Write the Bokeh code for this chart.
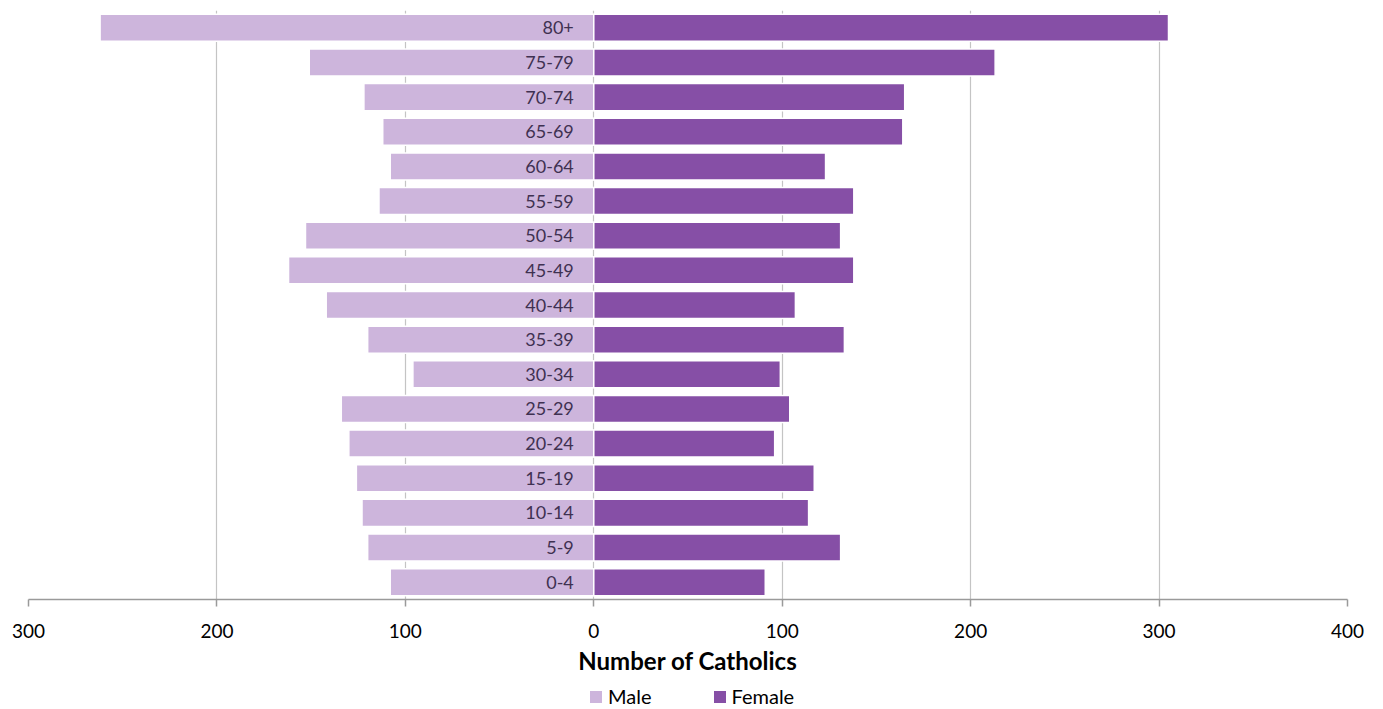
from bokeh.plotting import figure
from bokeh.layouts import column
from bokeh.models import ColumnDataSource, FactorRange, FixedTicker, CustomJSTickFormatter, Legend, LegendItem, Range1d
from bokeh.core.properties import value
from bokeh.embed import file_html
from bokeh.resources import INLINE

ages = ["0-4", "5-9", "10-14", "15-19", "20-24", "25-29", "30-34", "35-39", "40-44",
        "45-49", "50-54", "55-59", "60-64", "65-69", "70-74", "75-79", "80+"]
male = [108, 120, 123, 126, 130, 134, 96, 120, 142, 162, 153, 114, 108, 112, 122, 151, 262]
female = [91, 131, 114, 117, 96, 104, 99, 133, 107, 138, 131, 138, 123, 164, 165, 213, 305]
x_ticks = [-300, -200, -100, 0, 100, 200, 300, 400]
series = ["Male", "Female"]
colors = ["#CDB5DC", "#864FA6"]

FONT = "Lato"

src = ColumnDataSource(dict(
    age=ages,
    male_left=[-m for m in male],
    zero=[0] * len(ages),
    female=female,
))

p = figure(frame_width=1319, frame_height=589, y_range=FactorRange(*ages, range_padding=0),
           x_range=Range1d(-300, 400), output_backend="svg", toolbar_location=None,
           min_border_left=28, min_border_right=28, min_border_top=10, min_border_bottom=86)
p.outline_line_color = None
p.yaxis.visible = False
p.ygrid.grid_line_color = None
p.xgrid.grid_line_color = "#c4c4c4"
p.xgrid.grid_line_width = 1.2

p.hbar(y="age", left="male_left", right="zero", height=0.78, source=src,
       fill_color=colors[0], line_color="white", line_width=1.5)
p.hbar(y="age", left="zero", right="female", height=0.78, source=src,
       fill_color=colors[1], line_color="white", line_width=1.5)

p.text(x="zero", y="age", text="age", source=src, x_offset=-20,
       text_align="right", text_baseline="middle", text_font=value(FONT),
       text_font_size="18px", text_color="#3F3151")

p.xaxis.ticker = FixedTicker(ticks=x_ticks)
p.xaxis.formatter = CustomJSTickFormatter(code="return Math.abs(tick).toString();")
p.xaxis.axis_line_color = "#9a9a9a"
p.xaxis.axis_line_width = 1.5
p.xaxis.major_tick_line_color = "#9a9a9a"
p.xaxis.major_tick_line_width = 1.5
p.xaxis.major_tick_out = 7
p.xaxis.major_tick_in = 0
p.xaxis.minor_tick_line_color = None
p.xaxis.major_label_text_font = FONT
p.xaxis.major_label_text_font_size = "19px"
p.xaxis.major_label_text_color = "black"
p.xaxis.major_label_standoff = 17
p.xaxis.axis_label = "Number of Catholics"
p.xaxis.axis_label_text_font = FONT
p.xaxis.axis_label_text_font_style = "bold"
p.xaxis.axis_label_text_font_size = "24px"
p.xaxis.axis_label_text_color = "black"
p.xaxis.axis_label_standoff = 5

# legend strip below the chart
p2 = figure(width=1375, height=23, x_range=Range1d(0, 1), y_range=Range1d(0, 1),
            output_backend="svg", toolbar_location=None,
            min_border_left=0, min_border_right=0, min_border_top=0, min_border_bottom=0)
p2.axis.visible = False
p2.grid.grid_line_color = None
p2.outline_line_color = None
items = []
for name, col in zip(series, colors):
    # placeholder quad outside the visible range; only its legend swatch shows
    r = p2.quad(left=[5], right=[6], bottom=[5], top=[6], fill_color=col, line_color=None)
    items.append(LegendItem(label=name, renderers=[r]))
legend = Legend(items=items, orientation="horizontal", location=(560, 0),
                label_text_font=FONT, label_text_font_size="20px",
                label_text_color="black",
                glyph_width=15, glyph_height=15, spacing=60,
                border_line_color=None, background_fill_alpha=0,
                padding=0, margin=0, label_standoff=5, label_height=18)
p2.add_layout(legend, "center")

layout = column(p, p2, spacing=0)
open("out.html", "w").write(file_html(layout, INLINE))
